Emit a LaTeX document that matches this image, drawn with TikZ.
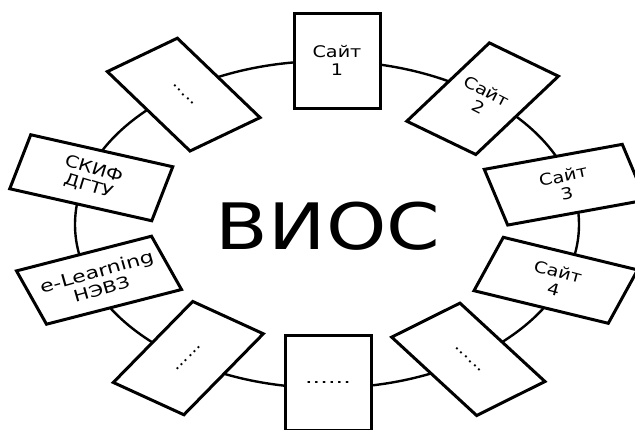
\documentclass[tikz,border=0pt]{standalone}
\usepackage{fontspec}
\usepackage{graphicx}
\setmainfont{DejaVu Sans}
\newcommand\wx[1]{\scalebox{1.2}[1]{#1}}
\newcommand\wl[1]{\scalebox{1.3}[1]{#1}}
% #1 name, #2 cx, #3 cy, #4 ux, #5 uy, #6 vx, #7 vy, #8 rotation, #9 text
\newcommand\ringbox[9]{%
  \begin{scope}[x={(#4pt,#5pt)}, y={(#6pt,#7pt)}, shift={(#2pt,#3pt)}]
    \draw[boxshape] (-0.5,-0.5) -- (0.5,-0.5) -- (0.5,0.5) -- (-0.5,0.5) -- cycle;
    \node[lbl, rotate=#8] (#1) at (0,0) {#9};
  \end{scope}}
\begin{document}
\begin{tikzpicture}[x=1pt, y=1pt,
  ring/.style={line width=2.4pt},
  boxshape/.style={draw, line width=3pt, fill=white, line join=miter},
  lbl/.style={font=\fontsize{16}{18}\selectfont, align=center, inner sep=0pt},
  title/.style={font=\fontsize{64}{64}\selectfont, inner sep=0pt}]
\useasboundingbox (0,-429) rectangle (635,0);
\clip (0,-429) rectangle (635,0);
\draw[ring] (327,-224.5) ellipse [x radius=252pt, y radius=163.5pt];
\ringbox{s1}{337}{-60.5}{86}{0}{0}{-95}{0}{\wx{Сайт}\\\wx{1}}
\ringbox{s2}{482.6}{-98.7}{69}{-33.3}{-82.6}{-78.3}{-27}{\wx{Сайт}\\\wx{2}}
\ringbox{s3}{565}{-184.7}{138}{25}{23.4}{-55.7}{12}{\wx{Сайт}\\\wx{3}}
\ringbox{s4}{555.8}{-280.3}{134.3}{-32.6}{-29.3}{-53.4}{-15}{\wx{Сайт}\\\wx{4}}
\ringbox{dbr}{468.3}{-359.3}{85}{-78.4}{-68.3}{-34}{-42.7}{\wx{......}}
\ringbox{db}{328}{-382.5}{86}{0}{0}{-95}{0}{\scalebox{1.5}[1]{......}}
\ringbox{dbl}{188.3}{-358.1}{-79.4}{-81}{70.6}{-32.3}{45.6}{\wx{......}}
\ringbox{el}{99}{-280.2}{135}{34.7}{30}{-53.3}{16}{\fontsize{17}{18}\selectfont\wl{e-Learning}\\\wl{НЭВЗ}}
\ringbox{skif}{91.25}{-177.75}{142}{-32}{-21}{-54}{-17}{\fontsize{16.5}{18}\selectfont\wx{СКИФ}\\\wx{ДГТУ}}
\ringbox{dtl}{183.7}{-94.6}{82.7}{-79.4}{-70}{-33.4}{-43.8}{\wx{.....}}
\node[title] (vios) at (328,-226.5) {\scalebox{1.2}[1]{ВИОС}};
\end{tikzpicture}
\end{document}
